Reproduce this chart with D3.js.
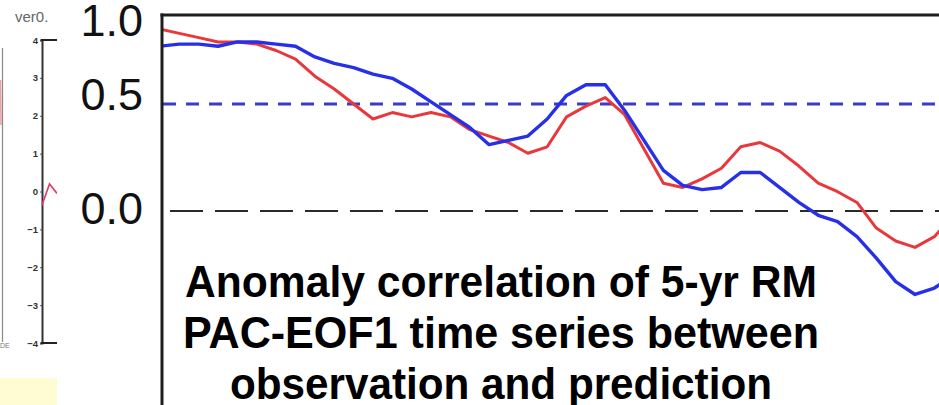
<!DOCTYPE html>
<html>
<head>
<meta charset="utf-8">
<script src="https://cdn.jsdelivr.net/npm/d3@7"></script>
<style>
  html, body { margin: 0; padding: 0; background: #fff; }
  svg { display: block; }
</style>
</head>
<body>
<svg id="chart" width="939" height="405"></svg>
<script>
// Running-mean time steps (5-yr RM)
const steps = [0,1,2,3,4,5,6,7,8,9,10,11,12,13,14,15,16,17,18,19,20,
               21,22,23,24,25,26,27,28,29,30,31,32,33,34,35,36,37,38,39,40,41];

// Anomaly correlation, red series
const redSeries = [0.85,0.83,0.81,0.79,0.79,0.78,0.75,0.71,0.63,0.57,0.50,
                   0.43,0.46,0.44,0.46,0.44,0.38,0.35,0.32,0.27,0.30,
                   0.44,0.49,0.53,0.45,0.29,0.13,0.11,0.15,0.20,0.30,
                   0.32,0.28,0.21,0.13,0.09,0.04,-0.08,-0.14,-0.17,-0.12,-0.02];

// Anomaly correlation, blue series
const blueSeries = [0.77,0.78,0.78,0.77,0.79,0.79,0.78,0.77,0.72,0.69,0.67,
                    0.64,0.62,0.57,0.51,0.45,0.39,0.31,0.33,0.35,0.43,
                    0.54,0.59,0.59,0.47,0.33,0.19,0.12,0.10,0.11,0.18,
                    0.18,0.11,0.04,-0.02,-0.05,-0.12,-0.22,-0.33,-0.39,-0.36,-0.30];

// Reference levels
const refLevels = [0.5, 0.0];

// Y tick labels
const tickValues = [1.0, 0.5, 0.0];
const tickLabels = ["1.0", "0.5", "0.0"];

// Caption
const titleLines = ["Anomaly correlation of 5-yr RM",
                    "PAC-EOF1 time series between",
                    "observation and prediction"];

// Small side panel
const insetTicks = [4, 3, 2, 1, 0, -1, -2, -3, -4];
const insetSteps = [0, 1, 2];
const insetSeries = [-0.36, 0.2, -0.05];

const svg = d3.select("#chart");

// ---------- side panel fragment ----------
const side = svg.append("g");
side.append("defs").append("clipPath").attr("id", "sideClip")
  .append("rect").attr("x", 0).attr("y", 0).attr("width", 57).attr("height", 405);
const sideG = side.append("g").attr("clip-path", "url(#sideClip)");

// leftmost panel edge
sideG.append("line").attr("x1", 2.5).attr("x2", 2.5).attr("y1", 48).attr("y2", 342)
  .attr("stroke", "#888").attr("stroke-width", 1.2);
sideG.append("line").attr("x1", 0.5).attr("x2", 1).attr("y1", 80).attr("y2", 125)
  .attr("stroke", "#e07a7a").attr("stroke-width", 1.5).attr("opacity", 0.7);
sideG.append("text").attr("x", 0).attr("y", 348).text("DE")
  .attr("font-family", "Liberation Sans, Arial, sans-serif").attr("font-size", 7).attr("fill", "#777");

// inset axis
const yIn = d3.scaleLinear().domain([-4, 4]).range([343, 40]);
const xIn = d3.scaleLinear().domain([0, 2]).range([42, 57]);
sideG.append("text").attr("x", 15).attr("y", 22).text("ver0.")
  .attr("font-family", "Liberation Sans, Arial, sans-serif").attr("font-size", 15).attr("fill", "#666");
const axIn = d3.axisLeft(yIn).tickValues(insetTicks).tickSize(2).tickPadding(2).tickFormat(d3.format("d"));
const axG = sideG.append("g").attr("transform", "translate(42,0)").call(axIn);
axG.select(".domain").attr("stroke", "#333").attr("stroke-width", 2);
axG.selectAll("text").attr("font-family", "Liberation Sans, Arial, sans-serif")
  .attr("font-size", 9.5).attr("font-weight", "bold").attr("fill", "#333");
axG.selectAll(".tick line").attr("stroke", "#555");
sideG.append("line").attr("x1", 41).attr("x2", 57).attr("y1", yIn(4)).attr("y2", yIn(4))
  .attr("stroke", "#222").attr("stroke-width", 2);
sideG.append("line").attr("x1", 41).attr("x2", 57).attr("y1", yIn(-4)).attr("y2", yIn(-4))
  .attr("stroke", "#222").attr("stroke-width", 2);
sideG.append("path").datum(insetSeries)
  .attr("d", d3.line().x((d, i) => xIn(insetSteps[i])).y(d => yIn(d)))
  .attr("fill", "none").attr("stroke", "#d8406a").attr("stroke-width", 1.6);
sideG.append("rect").attr("x", 0).attr("y", 378).attr("width", 57).attr("height", 27)
  .attr("fill", "#fffbd2");

// ---------- main chart ----------
const x = d3.scaleLinear().domain([0, 40]).range([160, 934.4]);
const y = d3.scaleLinear().domain([0, 1]).range([211, -3]);
const yLab = d3.scaleLinear().domain([0, 0.5, 1]).range([224, 110, 36]);

svg.append("defs").append("clipPath").attr("id", "plotClip")
  .append("rect").attr("x", 163).attr("y", 15).attr("width", 776).attr("height", 390);

const plot = svg.append("g").attr("clip-path", "url(#plotClip)");

// reference lines
plot.append("line")
  .attr("x1", 163).attr("x2", 939).attr("y1", y(refLevels[0])).attr("y2", y(refLevels[0]))
  .attr("stroke", "#3b3bc8").attr("stroke-width", 3).attr("stroke-dasharray", "13,10");
plot.append("line")
  .attr("x1", 170).attr("x2", 939).attr("y1", y(refLevels[1])).attr("y2", y(refLevels[1]))
  .attr("stroke", "#2a2a2a").attr("stroke-width", 2.2).attr("stroke-dasharray", "33,12");

const line = d3.line().x((d, i) => x(steps[i])).y(d => y(d));

plot.append("path").datum(redSeries).attr("d", line)
  .attr("fill", "none").attr("stroke", "#e8383c").attr("stroke-width", 3)
  .attr("stroke-linejoin", "round");
plot.append("path").datum(blueSeries).attr("d", line)
  .attr("fill", "none").attr("stroke", "#2630e8").attr("stroke-width", 3.4)
  .attr("stroke-linejoin", "round");

// frame
svg.append("line").attr("x1", 160.5).attr("x2", 939).attr("y1", 15).attr("y2", 15)
  .attr("stroke", "#1e1e1e").attr("stroke-width", 3);
svg.append("line").attr("x1", 162).attr("x2", 162).attr("y1", 13.5).attr("y2", 405)
  .attr("stroke", "#1e1e1e").attr("stroke-width", 3);

// y tick labels
svg.append("g").selectAll("text").data(tickValues).join("text")
  .attr("x", 143).attr("y", d => yLab(d))
  .attr("text-anchor", "end")
  .attr("font-family", "Liberation Sans, Arial, sans-serif")
  .attr("font-size", 45).attr("fill", "#111")
  .text((d, i) => tickLabels[i]);

// caption
const capWidths = [632, 636, 542];
svg.append("g").selectAll("text").data(titleLines).join("text")
  .attr("x", 501).attr("y", (d, i) => 297 + i * 51)
  .attr("text-anchor", "middle")
  .attr("font-family", "Liberation Sans, Arial, sans-serif")
  .attr("font-weight", "bold").attr("font-size", 44).attr("fill", "#000")
  .attr("textLength", (d, i) => capWidths[i])
  .attr("lengthAdjust", "spacingAndGlyphs")
  .text(d => d);
</script>
</body>
</html>
